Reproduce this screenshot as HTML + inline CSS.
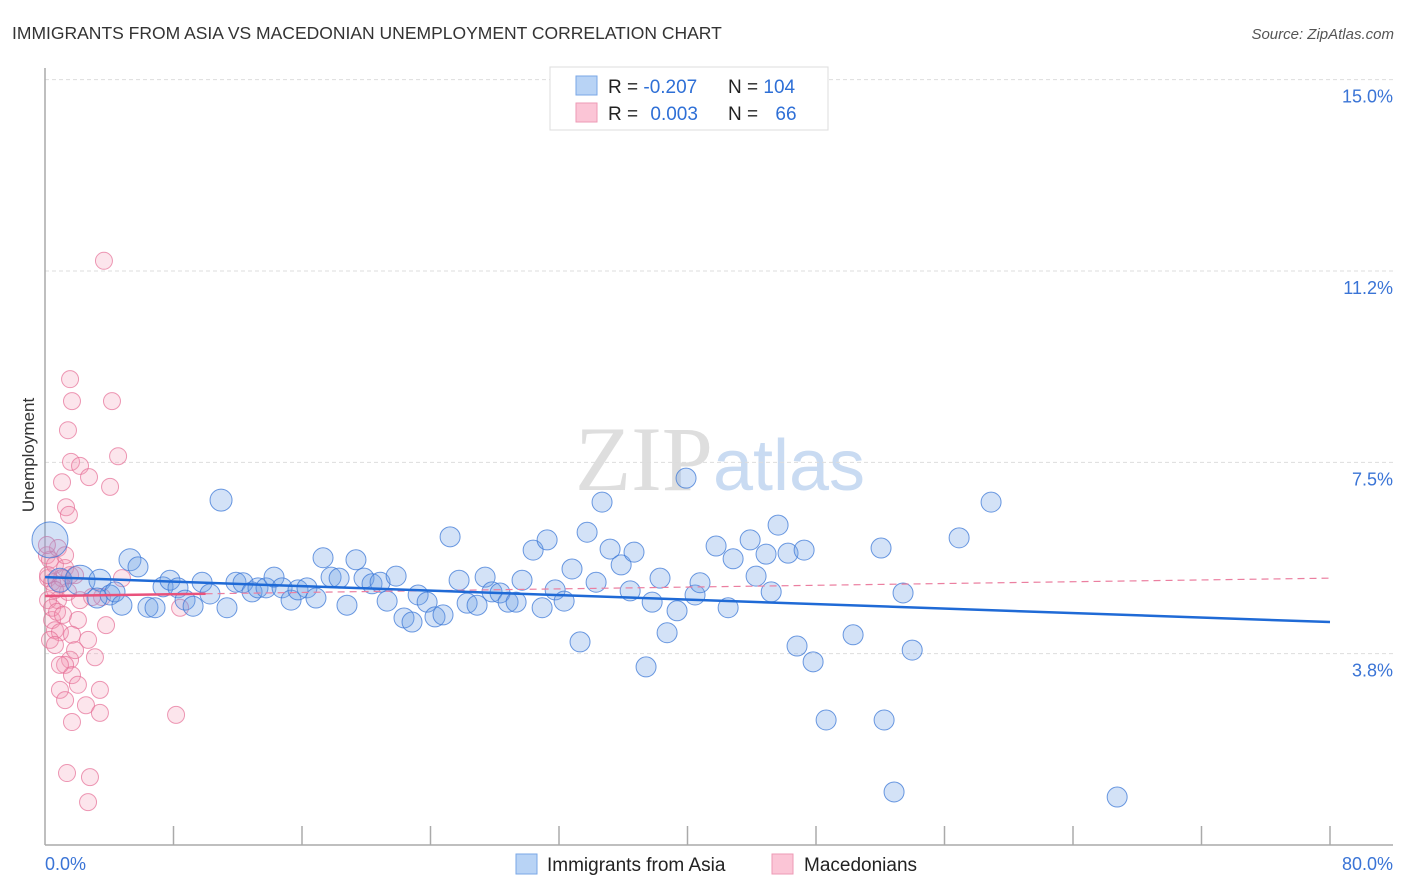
<!DOCTYPE html>
<html><head><meta charset="utf-8"><style>
body{margin:0;background:#fff;font-family:"Liberation Sans",sans-serif;}
svg{display:block}
</style></head><body>
<svg id="chart" width="1406" height="892" xmlns="http://www.w3.org/2000/svg">
<text x="12" y="39" font-size="17.5" fill="#333">IMMIGRANTS FROM ASIA VS MACEDONIAN UNEMPLOYMENT CORRELATION CHART</text>
<text x="1394" y="39" font-size="15" fill="#555" font-style="italic" text-anchor="end">Source: ZipAtlas.com</text>
<text x="720" y="490" font-size="92" fill="#e4e4e4" text-anchor="middle" font-family="Liberation Serif,serif"><tspan fill="#dedede">ZIP</tspan><tspan fill="#c9dbf2" font-family="Liberation Sans,sans-serif" font-size="72">atlas</tspan></text>
<g id="grid"></g>
<g id="yticks"></g>
<g id="xaxis"></g>
<text transform="translate(34,455) rotate(-90)" font-size="17" fill="#333" text-anchor="middle">Unemployment</text>
<g id="pink"></g>
<g id="blue"></g>
<g id="lines"></g>
<g>
<rect x="550" y="67" width="278" height="63" fill="#fff" stroke="#ddd"/>
<rect x="576" y="76" width="21" height="19" fill="#b8d3f5" stroke="#7aa7e6"/>
<rect x="576" y="103" width="21" height="19" fill="#fbc5d6" stroke="#ee9ab5"/>
<text x="608" y="93" font-size="19" fill="#222">R = <tspan fill="#2e6fd6">-0.207</tspan></text>
<text x="728" y="93" font-size="19" fill="#222">N = <tspan fill="#2e6fd6">104</tspan></text>
<text x="608" y="120" font-size="19" fill="#222">R = <tspan fill="#2e6fd6" dx="7">0.003</tspan></text>
<text x="728" y="120" font-size="19" fill="#222">N = <tspan fill="#2e6fd6" dx="12">66</tspan></text>
</g>
<g>
<rect x="516" y="854" width="21" height="20" fill="#b8d3f5" stroke="#7aa7e6"/>
<text x="547" y="871" font-size="19" fill="#222">Immigrants from Asia</text>
<rect x="772" y="854" width="21" height="20" fill="#fbc5d6" stroke="#ee9ab5"/>
<text x="804" y="871" font-size="19" fill="#222">Macedonians</text>
</g>
</svg>
<script>
const blueX=[0.31,0.93,2.18,3.42,4.05,3.24,4.36,4.79,5.29,5.79,6.41,6.85,7.35,7.78,8.28,8.72,9.22,9.78,10.27,10.96,11.33,11.89,12.33,12.89,13.26,13.76,14.26,14.76,15.32,15.75,16.31,16.87,17.31,17.81,18.31,18.80,19.36,19.86,20.36,20.86,21.30,21.86,22.35,22.85,23.23,23.79,24.28,24.78,25.22,25.78,26.28,26.90,27.40,27.83,28.33,28.83,29.33,29.70,30.39,30.95,31.26,31.76,32.32,32.81,33.31,33.75,34.31,34.68,35.18,35.87,36.43,36.67,37.42,37.80,38.29,38.73,39.35,39.91,40.47,40.78,41.78,42.53,42.84,43.90,44.27,44.89,45.21,45.64,46.26,46.82,47.26,47.82,48.63,50.31,52.05,52.24,52.86,53.42,53.99,56.91,58.90,66.75];
const blueY=[5.98,5.19,5.19,5.19,4.90,4.84,4.96,4.70,5.59,5.45,4.66,4.65,5.06,5.19,5.04,4.80,4.68,5.15,4.92,6.76,4.65,5.15,5.14,4.96,5.04,5.04,5.25,5.04,4.80,5.00,5.04,4.84,5.63,5.25,5.23,4.70,5.59,5.23,5.12,5.15,4.78,5.27,4.45,4.37,4.90,4.76,4.47,4.51,6.04,5.19,4.74,4.70,5.25,4.96,4.94,4.76,4.76,5.19,5.78,4.65,5.98,5.00,4.78,5.41,3.98,6.13,5.15,6.72,5.80,5.49,4.98,5.74,3.49,4.76,5.23,4.16,4.59,7.19,4.90,5.14,5.86,4.65,5.61,5.98,5.27,5.70,4.96,6.27,5.72,3.90,5.78,3.59,2.45,4.12,5.82,2.45,1.04,4.94,3.82,6.02,6.72,0.94];
const blueBig=[[0,18],[2,15],[8,11],[19,11],[1,12],[3,11]];
const pinkX=[0.12,0.31,0.62,0.19,0.44,0.93,1.25,1.56,0.81,0.19,0.44,0.62,0.93,0.31,0.62,1.06,1.43,1.87,2.18,2.05,1.56,1.25,1.68,0.93,1.25,2.05,2.68,3.11,3.42,2.55,3.42,1.68,3.67,1.56,1.68,4.17,1.43,1.62,2.18,2.74,4.05,4.55,1.06,1.31,1.49,3.80,8.16,4.79,8.41,1.37,2.80,2.68,3.55,0.81,1.25,0.44,0.75,1.68,0.93,0.12,0.62,2.93,1.12,1.87,0.19];
const pinkY=[5.68,5.59,5.49,5.23,5.15,5.10,5.43,5.29,4.80,4.80,4.41,4.21,4.17,4.02,3.92,5.23,4.96,5.29,4.80,4.41,3.63,3.53,3.33,3.04,2.84,3.14,4.02,3.68,3.04,2.74,2.59,2.41,11.45,9.13,8.70,8.70,8.13,7.51,7.43,7.21,7.02,7.62,7.11,6.62,6.47,4.31,2.55,5.23,4.65,1.41,1.33,0.84,4.86,5.82,5.68,4.65,4.57,4.12,3.53,5.88,5.00,4.86,4.51,3.82,5.29];
const yTicks=[3.75,7.5,11.25,15];
const yTickLabels=["3.8%","7.5%","11.2%","15.0%"];
const xTicks=[0,8,16,24,32,40,48,56,64,72,80];
const blueTrend=[[0,5.25],[80,4.37]];
const pinkTrend=[[0,4.88],[80,5.23]];
const pinkSolidEnd=10;

const NS="http://www.w3.org/2000/svg";
const X0=45,X1=1330,Y0=845,PX_PER_Y=191.33/3.75;
const sx=v=>X0+(X1-X0)*v/80;
const sy=v=>Y0-v*PX_PER_Y;
function mk(tag,attrs,parent){const e=document.createElementNS(NS,tag);for(const k in attrs)e.setAttribute(k,attrs[k]);parent.appendChild(e);return e;}
const grid=document.getElementById('grid'),yt=document.getElementById('yticks'),xa=document.getElementById('xaxis');
yTicks.forEach((t,i)=>{
 const l=mk('line',{x1:X0,x2:1393,y1:sy(t),y2:sy(t),stroke:'#ddd','stroke-dasharray':'4,3'},grid);
 
 
 const tx=mk('text',{x:1393,y:sy(t)+23,'font-size':18,fill:'#3a74d6','text-anchor':'end'},yt);
 tx.textContent=yTickLabels[i];
 
 
});
const ax=mk('line',{x1:X0,x2:X0,y1:68,y2:Y0,stroke:'#aaa','stroke-width':1.5},xa);


const bx=mk('line',{x1:X0,x2:1393,y1:Y0,y2:Y0,stroke:'#aaa','stroke-width':1.5},xa);


xTicks.forEach(t=>{if(t===0)return;
 const l=mk('line',{x1:sx(t),x2:sx(t),y1:826,y2:Y0,stroke:'#aaa','stroke-width':1.5},xa);
 
 
});
const xl0=mk('text',{x:X0,y:870,'font-size':18,fill:'#3a74d6'},xa);xl0.textContent=xTicks[0].toFixed(1)+'%';


const xl1=mk('text',{x:1393,y:870,'font-size':18,fill:'#3a74d6','text-anchor':'end'},xa);xl1.textContent=xTicks[xTicks.length-1].toFixed(1)+'%';



const pg=document.getElementById('pink');
pinkX.forEach((v,i)=>{
 const c=mk('circle',{cx:sx(v),cy:sy(pinkY[i]),r:8.5,fill:'rgba(243,150,180,0.25)',stroke:'rgba(230,110,150,0.7)','stroke-width':1},pg);
 
 
});
const bg=document.getElementById('blue');
const rad=blueX.map(()=>10);blueBig.forEach(([i,r])=>rad[i]=r);
blueX.forEach((v,i)=>{
 const c=mk('circle',{cx:sx(v),cy:sy(blueY[i]),r:rad[i],fill:'rgba(110,160,230,0.3)',stroke:'rgba(60,120,215,0.75)','stroke-width':1},bg);
 
 
});
const lg=document.getElementById('lines');
const py=x=>pinkTrend[0][1]+(pinkTrend[1][1]-pinkTrend[0][1])*x/80;
const pd=mk('line',{x1:sx(pinkSolidEnd),y1:sy(py(pinkSolidEnd)),x2:sx(80),y2:sy(py(80)),stroke:'#eb7fa0','stroke-width':1.2,'stroke-dasharray':'7,5'},lg);


const ps=mk('line',{x1:sx(0),y1:sy(py(0)),x2:sx(pinkSolidEnd),y2:sy(py(pinkSolidEnd)),stroke:'#e9527c','stroke-width':2.5},lg);


const bl=mk('line',{x1:sx(blueTrend[0][0]),y1:sy(blueTrend[0][1]),x2:sx(blueTrend[1][0]),y2:sy(blueTrend[1][1]),stroke:'#1f6ad6','stroke-width':2.5},lg);


</script>
</body></html>
